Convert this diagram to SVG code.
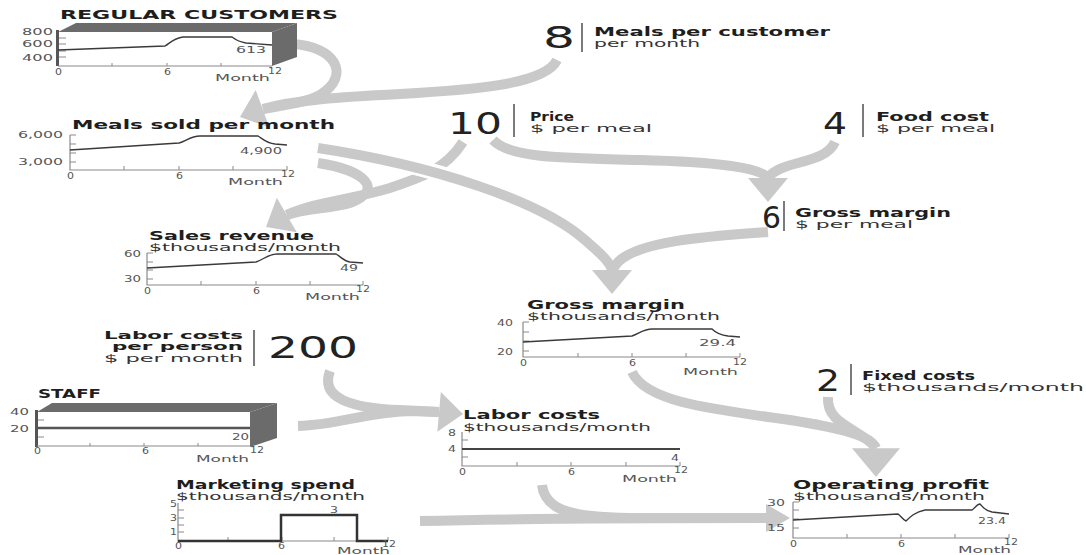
<svg xmlns="http://www.w3.org/2000/svg" width="1086" height="555" viewBox="0 0 1086 555">
<style>
text{font-family:"DejaVu Sans","Liberation Sans",sans-serif;fill:#1e1e1e}
.b{font-weight:bold;font-size:11.5px}
.s{font-size:10.5px;fill:#333}
.a{font-size:9.5px;fill:#555}
.n{font-size:30px;fill:#222}
.ax{stroke:#8a8a8a;stroke-width:1.2;fill:none}
.tk{stroke:#8a8a8a;stroke-width:1;fill:none}
.ln{stroke:#3a3a3a;stroke-width:1.4;fill:none}
.band{stroke:#c9c9c9;stroke-width:10;fill:none}
.case{stroke:#fff;stroke-width:16;fill:none}
.hd{fill:#c9c9c9}
.box{fill:#6b6b6b}
.bar{stroke:#333;stroke-width:1.3}
</style>
<defs>
<path id="head" d="M0,0 L-24,-20 L-24,20 Z"/>
</defs>
<rect width="1086" height="555" fill="#fff"/>

<g id="connectors">
<path class="band" d="M292,44 C335,46 352,75 320,95 C305,103 285,105 263,109"/>
<path class="band" d="M557,60 C545,85 470,90 400,94 C340,97 295,100 263,109"/>
<use href="#head" class="hd" transform="translate(240,117) rotate(160)"/>
<path class="band" d="M318,163 C365,170 385,190 350,203 C330,209 305,208 287,215"/>
<path class="band" d="M463,142 C445,170 420,178 390,188 C350,200 315,202 287,215"/>
<use href="#head" class="hd" transform="translate(266,227) rotate(150)"/>
<path class="case" d="M330,150 C430,165 540,200 585,240"/>
<path class="band" d="M318,148 C430,165 540,200 585,240 C600,253 610,262 612,270"/>
<path class="band" d="M768,232 C715,236 640,240 618,262 L612,270"/>
<use href="#head" class="hd" transform="translate(612,294) rotate(90)"/>
<path class="band" d="M493,140 C510,158 560,158 640,160 C720,162 760,168 768,178"/>
<path class="band" d="M835,142 C825,165 780,160 768,178"/>
<use href="#head" class="hd" transform="translate(768,202) rotate(90)"/>
<path class="band" d="M632,372 C645,400 700,408 790,420 C840,428 870,435 876,448"/>
<path class="band" d="M828,397 C826,425 860,428 876,448"/>
<use href="#head" class="hd" transform="translate(876,477) rotate(90) scale(1.2)"/>
<path class="band" d="M542,485 C545,512 575,518 640,518 L766,518"/>
<path class="band" d="M420,521 C550,518 650,518 766,518"/>
<use href="#head" class="hd" transform="translate(790,518) rotate(0) scale(1,0.7)"/>
<path class="band" d="M330,371 C320,398 350,408 400,410 L439,412"/>
<path class="band" d="M298,426 C340,425 365,412 410,411 L439,412"/>
<use href="#head" class="hd" transform="translate(463,414) rotate(5)"/>
</g>

<g id="regular-customers">
<text class="b" x="60" y="19" textLength="278" lengthAdjust="spacingAndGlyphs" style="font-size:12.5px">REGULAR CUSTOMERS</text>
<polygon class="box" points="58,32 76,23 297,23 272,32"/>
<polygon class="box" points="272,32 297,23 297,57 272,66"/>
<rect x="58" y="32" width="214" height="34" fill="#fff"/>
<rect x="56" y="30" width="3" height="36" fill="#555"/>
<path class="tk" d="M59,38h7M59,44h7M59,51h7M59,57h7M112,66v-3M167,66v-3M221,66v-3"/>
<path class="ax" d="M58,66H272"/>
<text class="a" x="22" y="35" textLength="31" lengthAdjust="spacingAndGlyphs">800</text>
<text class="a" x="22" y="47" textLength="31" lengthAdjust="spacingAndGlyphs">600</text>
<text class="a" x="22" y="61" textLength="31" lengthAdjust="spacingAndGlyphs">400</text>
<text class="a" x="55" y="75" textLength="7" lengthAdjust="spacingAndGlyphs">0</text>
<text class="a" x="164" y="75" textLength="7" lengthAdjust="spacingAndGlyphs">6</text>
<text class="a" x="268" y="74" textLength="14" lengthAdjust="spacingAndGlyphs">12</text>
<text class="a" x="215" y="81" textLength="55" lengthAdjust="spacingAndGlyphs">Month</text>
<path class="ln" d="M58,50 L165,46 C170,43 174,38 183,37 L232,37 C236,40 239,42 246,43 L272,45"/>
<text class="a" x="236" y="53" textLength="30" lengthAdjust="spacingAndGlyphs">613</text>
</g>

<g id="meals-per-customer">
<text class="n" x="543" y="48" textLength="32" lengthAdjust="spacingAndGlyphs">8</text>
<line class="bar" x1="582" y1="23" x2="582" y2="52"/>
<text class="b" x="594" y="36" textLength="236" lengthAdjust="spacingAndGlyphs">Meals per customer</text>
<text class="s" x="594" y="47" textLength="106" lengthAdjust="spacingAndGlyphs">per month</text>
</g>

<g id="meals-sold">
<text class="b" x="72" y="129" textLength="263" lengthAdjust="spacingAndGlyphs" style="font-size:12.5px">Meals sold per month</text>
<text class="a" x="18" y="138" textLength="45" lengthAdjust="spacingAndGlyphs">6,000</text>
<text class="a" x="18" y="165" textLength="45" lengthAdjust="spacingAndGlyphs">3,000</text>
<path class="ax" d="M70,135V170H287"/>
<path class="tk" d="M70,135h6M70,144h6M70,153h6M70,162h6M124,170v-4M179,170v-4M233,170v-4M287,170v-4"/>
<text class="a" x="67" y="179" textLength="7" lengthAdjust="spacingAndGlyphs">0</text>
<text class="a" x="176" y="179" textLength="7" lengthAdjust="spacingAndGlyphs">6</text>
<text class="a" x="281" y="177" textLength="14" lengthAdjust="spacingAndGlyphs">12</text>
<text class="a" x="228" y="185" textLength="55" lengthAdjust="spacingAndGlyphs">Month</text>
<path class="ln" d="M70,150 L179,143 C186,141 191,136 200,136 L258,136 C263,139 266,143 275,144 L287,145"/>
<text class="a" x="240" y="154" textLength="42" lengthAdjust="spacingAndGlyphs">4,900</text>
</g>

<g id="price">
<text class="n" x="448" y="134" textLength="54" lengthAdjust="spacingAndGlyphs">10</text>
<line class="bar" x1="514" y1="104" x2="514" y2="137"/>
<text class="b" x="530" y="121" textLength="44" lengthAdjust="spacingAndGlyphs">Price</text>
<text class="s" x="530" y="132" textLength="122" lengthAdjust="spacingAndGlyphs">$ per meal</text>
</g>

<g id="food-cost">
<text class="n" x="823" y="134" textLength="24" lengthAdjust="spacingAndGlyphs">4</text>
<line class="bar" x1="863" y1="104" x2="863" y2="137"/>
<text class="b" x="876" y="121" textLength="113" lengthAdjust="spacingAndGlyphs">Food cost</text>
<text class="s" x="876" y="132" textLength="119" lengthAdjust="spacingAndGlyphs">$ per meal</text>
</g>

<g id="gross-margin-per-meal">
<text class="n" x="762" y="228" textLength="19" lengthAdjust="spacingAndGlyphs">6</text>
<line class="bar" x1="784" y1="201" x2="784" y2="231"/>
<text class="b" x="795" y="217" textLength="156" lengthAdjust="spacingAndGlyphs">Gross margin</text>
<text class="s" x="795" y="228" textLength="118" lengthAdjust="spacingAndGlyphs">$ per meal</text>
</g>

<g id="sales-revenue">
<text class="b" x="149" y="240" textLength="165" lengthAdjust="spacingAndGlyphs">Sales revenue</text>
<text class="s" x="149" y="251" textLength="192" lengthAdjust="spacingAndGlyphs">$thousands/month</text>
<text class="a" x="124" y="257" textLength="17" lengthAdjust="spacingAndGlyphs">60</text>
<text class="a" x="124" y="282" textLength="17" lengthAdjust="spacingAndGlyphs">30</text>
<path class="ax" d="M147,253V285H363"/>
<path class="tk" d="M147,253h6M147,262h6M147,270h6M147,279h6M201,285v-4M256,285v-4M310,285v-4M363,285v-4"/>
<text class="a" x="144" y="294" textLength="7" lengthAdjust="spacingAndGlyphs">0</text>
<text class="a" x="253" y="294" textLength="7" lengthAdjust="spacingAndGlyphs">6</text>
<text class="a" x="356" y="292" textLength="14" lengthAdjust="spacingAndGlyphs">12</text>
<text class="a" x="305" y="300" textLength="55" lengthAdjust="spacingAndGlyphs">Month</text>
<path class="ln" d="M147,268 L256,262 C263,260 268,254 277,254 L336,254 C341,257 344,261 350,262 L363,263"/>
<text class="a" x="340" y="271" textLength="18" lengthAdjust="spacingAndGlyphs">49</text>
</g>

<g id="gross-margin">
<text class="b" x="527" y="309" textLength="158" lengthAdjust="spacingAndGlyphs">Gross margin</text>
<text class="s" x="527" y="320" textLength="193" lengthAdjust="spacingAndGlyphs">$thousands/month</text>
<text class="a" x="497" y="326" textLength="16" lengthAdjust="spacingAndGlyphs">40</text>
<text class="a" x="497" y="355" textLength="16" lengthAdjust="spacingAndGlyphs">20</text>
<path class="ax" d="M523,322V357H740"/>
<path class="tk" d="M523,322h6M523,332h6M523,341h6M523,351h6M578,357v-4M632,357v-4M686,357v-4M740,357v-4"/>
<text class="a" x="520" y="366" textLength="7" lengthAdjust="spacingAndGlyphs">0</text>
<text class="a" x="629" y="366" textLength="7" lengthAdjust="spacingAndGlyphs">6</text>
<text class="a" x="733" y="365" textLength="14" lengthAdjust="spacingAndGlyphs">12</text>
<text class="a" x="683" y="375" textLength="55" lengthAdjust="spacingAndGlyphs">Month</text>
<path class="ln" d="M523,342 L632,336 C640,333 644,329 652,329 L712,329 C716,333 720,335 728,336 L740,337"/>
<text class="a" x="699" y="346" textLength="37" lengthAdjust="spacingAndGlyphs">29.4</text>
</g>

<g id="labor-cost-per-person">
<text class="b" x="104" y="338.5" textLength="139" lengthAdjust="spacingAndGlyphs" style="font-size:11px">Labor costs</text>
<text class="b" x="112" y="350" textLength="131" lengthAdjust="spacingAndGlyphs" style="font-size:11px">per person</text>
<text class="s" x="104" y="362" textLength="139" lengthAdjust="spacingAndGlyphs">$ per month</text>
<line class="bar" x1="254" y1="330" x2="254" y2="366"/>
<text class="n" x="268" y="358" textLength="90" lengthAdjust="spacingAndGlyphs">200</text>
</g>

<g id="fixed-costs">
<text class="n" x="816" y="391" textLength="24" lengthAdjust="spacingAndGlyphs">2</text>
<line class="bar" x1="851" y1="364" x2="851" y2="395"/>
<text class="b" x="862" y="380" textLength="113" lengthAdjust="spacingAndGlyphs">Fixed costs</text>
<text class="s" x="862" y="391" textLength="222" lengthAdjust="spacingAndGlyphs">$thousands/month</text>
</g>

<g id="staff">
<text class="b" x="38" y="398" textLength="63" lengthAdjust="spacingAndGlyphs" style="font-size:12.5px">STAFF</text>
<polygon class="box" points="37,412 52,403 277,403 250,412"/>
<polygon class="box" points="250,412 277,403 277,438 250,447"/>
<rect x="37" y="412" width="213" height="34" fill="#fff"/>
<rect x="35" y="410" width="3" height="37" fill="#555"/>
<path class="tk" d="M38,420h6M38,437h6M90,446v-3M144,446v-3M198,446v-3"/>
<path class="ax" d="M37,446H250"/>
<text class="a" x="10" y="415" textLength="19" lengthAdjust="spacingAndGlyphs">40</text>
<text class="a" x="10" y="432" textLength="19" lengthAdjust="spacingAndGlyphs">20</text>
<path d="M37,428H250" stroke="#555" stroke-width="2.5" fill="none"/>
<text class="a" x="232" y="440" textLength="17" lengthAdjust="spacingAndGlyphs">20</text>
<text class="a" x="34" y="454" textLength="7" lengthAdjust="spacingAndGlyphs">0</text>
<text class="a" x="142" y="454" textLength="7" lengthAdjust="spacingAndGlyphs">6</text>
<text class="a" x="250" y="453" textLength="14" lengthAdjust="spacingAndGlyphs">12</text>
<text class="a" x="196" y="462" textLength="53" lengthAdjust="spacingAndGlyphs">Month</text>
</g>

<g id="labor-costs">
<text class="b" x="463" y="419" textLength="137" lengthAdjust="spacingAndGlyphs">Labor costs</text>
<text class="s" x="463" y="431" textLength="188" lengthAdjust="spacingAndGlyphs">$thousands/month</text>
<text class="a" x="448" y="436" textLength="8" lengthAdjust="spacingAndGlyphs">8</text>
<text class="a" x="448" y="452" textLength="8" lengthAdjust="spacingAndGlyphs">4</text>
<path class="ax" d="M462,432V466H680"/>
<path class="tk" d="M462,440h6M462,457h6M517,466v-4M571,466v-4M626,466v-4M680,466v-4"/>
<path d="M462,449H680" stroke="#444" stroke-width="2" fill="none"/>
<text class="a" x="671" y="461" textLength="8" lengthAdjust="spacingAndGlyphs">4</text>
<text class="a" x="459" y="475" textLength="7" lengthAdjust="spacingAndGlyphs">0</text>
<text class="a" x="568" y="475" textLength="7" lengthAdjust="spacingAndGlyphs">6</text>
<text class="a" x="674" y="473" textLength="14" lengthAdjust="spacingAndGlyphs">12</text>
<text class="a" x="622" y="482" textLength="55" lengthAdjust="spacingAndGlyphs">Month</text>
</g>

<g id="marketing-spend">
<text class="b" x="176" y="489" textLength="179" lengthAdjust="spacingAndGlyphs">Marketing spend</text>
<text class="s" x="176" y="500" textLength="189" lengthAdjust="spacingAndGlyphs">$thousands/month</text>
<text class="a" x="170" y="507" textLength="7" lengthAdjust="spacingAndGlyphs">5</text>
<text class="a" x="170" y="521" textLength="7" lengthAdjust="spacingAndGlyphs">3</text>
<text class="a" x="170" y="535" textLength="7" lengthAdjust="spacingAndGlyphs">1</text>
<path class="ax" d="M178,503V541H388"/>
<path class="tk" d="M178,510h6M178,518h6M178,525h6M178,532h6M228,541v-4M282,541v-4M334,541v-4M388,541v-4"/>
<path d="M178,541H281V515H357V541H388" stroke="#333" stroke-width="2.5" fill="none"/>
<text class="a" x="330" y="513" textLength="8" lengthAdjust="spacingAndGlyphs">3</text>
<text class="a" x="175" y="549" textLength="7" lengthAdjust="spacingAndGlyphs">0</text>
<text class="a" x="278" y="549" textLength="7" lengthAdjust="spacingAndGlyphs">6</text>
<text class="a" x="382" y="547" textLength="14" lengthAdjust="spacingAndGlyphs">12</text>
<text class="a" x="337" y="554" textLength="53" lengthAdjust="spacingAndGlyphs">Month</text>
</g>

<g id="operating-profit">
<text class="b" x="793" y="489" textLength="196" lengthAdjust="spacingAndGlyphs">Operating profit</text>
<text class="s" x="793" y="500" textLength="192" lengthAdjust="spacingAndGlyphs">$thousands/month</text>
<text class="a" x="767" y="506" textLength="18" lengthAdjust="spacingAndGlyphs">30</text>
<text class="a" x="767" y="531" textLength="18" lengthAdjust="spacingAndGlyphs">15</text>
<path class="ax" d="M793,502V538H1009"/>
<path class="tk" d="M793,502h6M793,510h6M793,519h6M793,528h6M847,538v-4M901,538v-4M955,538v-4M1009,538v-4"/>
<path class="ln" d="M793,520 L898,514 C901,516 903,520 906,521 C910,517 915,512 925,510 L972,510 C975,508 977,504 980,504 C983,507 985,511 992,512 L1009,514"/>
<text class="a" x="978" y="524" textLength="28" lengthAdjust="spacingAndGlyphs">23.4</text>
<text class="a" x="790" y="547" textLength="7" lengthAdjust="spacingAndGlyphs">0</text>
<text class="a" x="898" y="547" textLength="7" lengthAdjust="spacingAndGlyphs">6</text>
<text class="a" x="1004" y="545" textLength="14" lengthAdjust="spacingAndGlyphs">12</text>
<text class="a" x="958" y="553" textLength="53" lengthAdjust="spacingAndGlyphs">Month</text>
</g>
</svg>
